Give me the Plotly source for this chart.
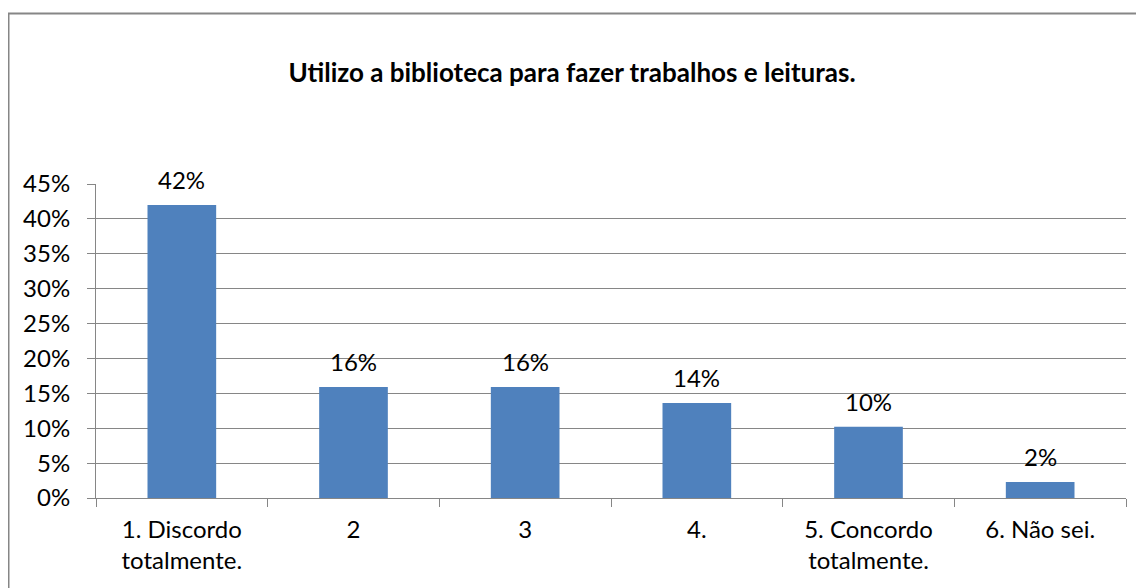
import plotly.graph_objects as go

categories = ["1. Discordo<br>totalmente.", "2", "3", "4.", "5. Concordo<br>totalmente.", "6. Não sei."]
values = [0.42, 0.159, 0.159, 0.136, 0.102, 0.023]
tick_vals = [0, 0.05, 0.10, 0.15, 0.20, 0.25, 0.30, 0.35, 0.40, 0.45]
tick_text = ["0%", "5%", "10%", "15%", "20%", "25%", "30%", "35%", "40%", "45%"]
title = "Utilizo a biblioteca para fazer trabalhos e leituras."

OFF = 8  # page body margin
PAGE_W, PAGE_H = 1144, 588
W, H = PAGE_W - OFF, PAGE_H - OFF
# plot area in page pixels: x 96..1126, y 184..498
L = 96 - OFF
T = 184 - OFF
R = W - (1126 - OFF)
B = H - (498 - OFF)
pw, ph = W - L - R, H - T - B

def px_x(xpage):
    return (xpage - OFF - L) / pw

def px_y(ypage):
    return (H - B - (ypage - OFF)) / ph

FONT = "Lato"
GRID = "#868686"
FS = 24

fig = go.Figure()
fig.add_trace(go.Bar(
    x=categories, y=values,
    marker=dict(color="#4F81BD", line=dict(width=0)),
    hoverinfo="skip",
))

annotations = []
for i, v in enumerate(values):
    annotations.append(dict(
        x=i, y=v, xref="x", yref="y", text=f"{round(v * 100)}%",
        showarrow=False, yanchor="bottom", yshift=9,
        font=dict(family=FONT, size=FS, color="#000000"),
    ))

fig.update_layout(
    width=W, height=H,
    margin=dict(l=L, r=R, t=T, b=B, autoexpand=False),
    paper_bgcolor="white", plot_bgcolor="white",
    bargap=0.6,
    showlegend=False,
    font=dict(family=FONT, size=FS, color="#000000"),
    title=dict(text="<b>" + title + "</b>", x=(572 - OFF) / W, xanchor="center",
               y=1 - (73 - OFF) / H, yanchor="middle",
               font=dict(family=FONT, size=26, color="#000000")),
    xaxis=dict(showgrid=False, showline=True, linecolor=GRID, linewidth=1,
               ticks="outside", ticklen=8, tickcolor=GRID, tickson="boundaries",
               ticklabelstandoff=10,
               tickfont=dict(family=FONT, size=FS)),
    yaxis=dict(range=[0, 0.45], tickvals=tick_vals, ticktext=tick_text,
               showgrid=True, gridcolor=GRID, gridwidth=1,
               showline=True, linecolor=GRID, linewidth=1,
               ticks="outside", ticklen=8, tickcolor=GRID,
               ticklabelstandoff=12,
               zeroline=False, tickfont=dict(family=FONT, size=FS)),
    annotations=annotations,
    shapes=[dict(type="rect", xref="paper", yref="paper",
                 x0=px_x(8.5), x1=px_x(1160), y0=px_y(620), y1=px_y(13.5),
                 line=dict(color=GRID, width=2), fillcolor="rgba(0,0,0,0)",
                 layer="below")],
)

fig.write_html("out.html")
